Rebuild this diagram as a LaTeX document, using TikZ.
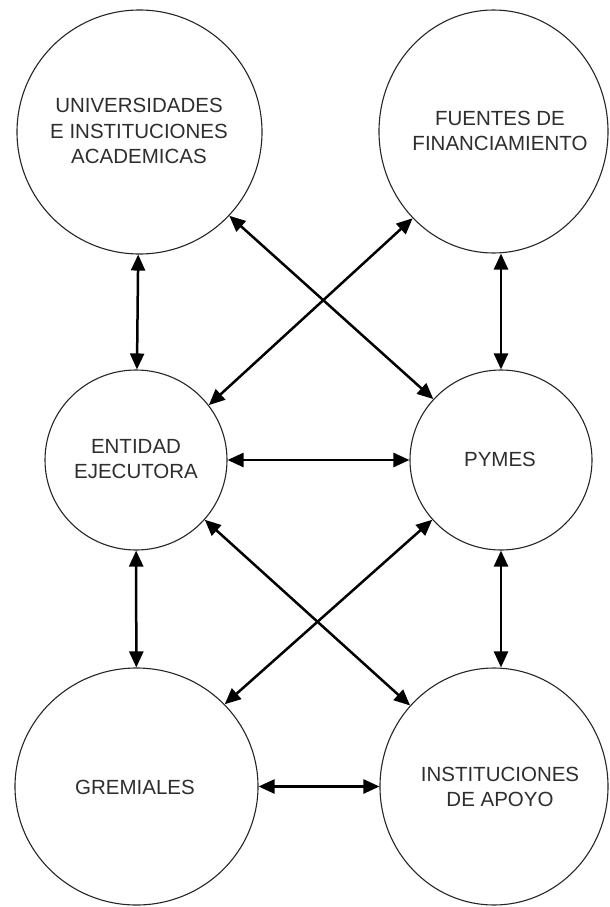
\documentclass[tikz,border=0pt]{standalone}
\usepackage{fontspec}
\setmainfont{Liberation Sans}
\usetikzlibrary{shapes.geometric,arrows.meta}
\begin{document}
\begin{tikzpicture}[x=1pt,y=-1pt,
  actor/.style={ellipse,draw=black!85,line width=1.1pt,inner sep=0pt},
  caption/.style={align=center,inner sep=0pt,text=black!82,
    font=\fontsize{20.5}{25.5}\selectfont},
  link/.style={line width=2.5pt,
    {Triangle[length=16pt,width=14pt]}-{Triangle[length=16pt,width=14pt]}}]
\useasboundingbox[fill=white] (0,0) rectangle (610,907);

% actors
\node[actor,minimum width=245pt,minimum height=244pt] (tl) at (139.5,132) {};
\node[actor,minimum width=229pt,minimum height=243pt] (tr) at (493.5,131.5) {};
\node[actor,minimum width=182pt,minimum height=180pt] (en) at (136,460) {};
\node[actor,minimum width=182pt,minimum height=180pt] (py) at (501,460) {};
\node[actor,minimum width=243pt,minimum height=237pt] (gr) at (136.5,786.5) {};
\node[actor,minimum width=228pt,minimum height=237pt] (in) at (494,786.5) {};

% names
\node[caption] (tl-name) at (139,131) {UNIVERSIDADES\\E INSTITUCIONES\\ACADEMICAS};
\node[caption] (tr-name) at (500,131) {FUENTES DE\\FINANCIAMIENTO};
\node[caption] (en-name) at (136,459) {ENTIDAD\\EJECUTORA};
\node[caption] (py-name) at (500,459) {PYMES};
\node[caption] (gr-name) at (135,787) {GREMIALES};
\node[caption] (in-name) at (500,787) {INSTITUCIONES\\DE APOYO};

% vertical links
\draw[link] (tl) -- (en);
\draw[link] (en) -- (gr);
\draw[link] (tr.south -| py.north) -- (py.north);
\draw[link] (py.south) -- (py.south |- in.north);

% horizontal links
\draw[link] (en) -- (py);
\draw[link] (gr) -- (in);

% crossing links
\draw[link] (tl.-43.5) -- (py.138.6);
\draw[link] (en.37.6) -- (tr.227.8);
\draw[link] (en.-41.6) -- (in.136.6);
\draw[link] (py.221.1) -- (gr.43.3);
\end{tikzpicture}
\end{document}
